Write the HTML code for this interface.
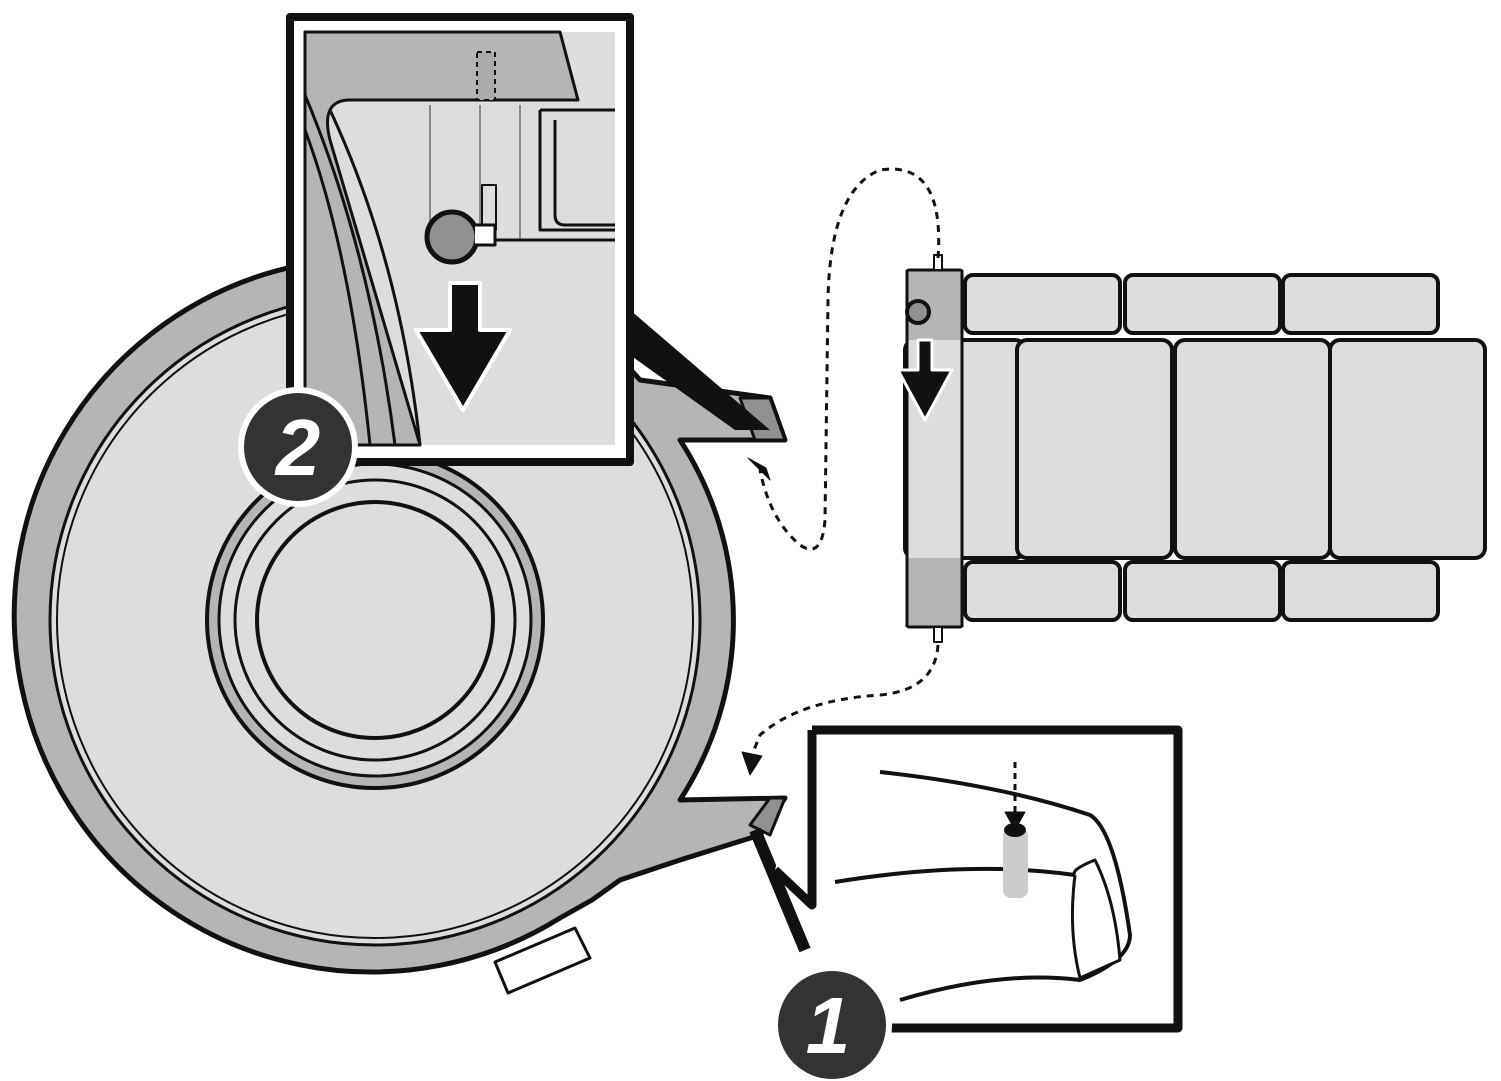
<!DOCTYPE html>
<html><head><meta charset="utf-8"><style>
html,body{margin:0;padding:0;background:#fff;}
svg{display:block;}
text{font-family:"Liberation Sans",sans-serif;font-weight:bold;font-style:italic;}
</style></head><body>
<svg width="1501" height="1081" viewBox="0 0 1501 1081" xmlns="http://www.w3.org/2000/svg">
<g stroke="#111" stroke-linejoin="round">
<!-- big disc body with tabs -->
<path d="M680,440 L785,440 L770,398 L640,380 A357,357 0 1 0 560,918 L592,900 L620,880 L680,860 L760,835 L785,798 L680,800 A330,330 0 0 0 680,440 Z" fill="#b4b5b6" stroke-width="5"/>
<circle cx="375" cy="620" r="325" fill="#dcdddd" stroke-width="3"/>
<circle cx="375" cy="620" r="318" fill="none" stroke-width="2"/>
<circle cx="375" cy="620" r="168" fill="#b4b5b6" stroke-width="4"/>
<circle cx="375" cy="620" r="156" fill="#dcdddd" stroke-width="3"/>
<circle cx="375" cy="620" r="140" fill="#dcdddd" stroke-width="3"/>
<circle cx="375" cy="620" r="118" fill="#dcdddd" stroke-width="4"/>
<path d="M740,398 L770,398 L785,440 L755,440 Z" fill="#8f9091" stroke-width="3"/>
<path d="M750,825 L770,798 L785,798 L770,835 Z" fill="#8f9091" stroke-width="3"/>
<path d="M495,962 L575,928 L590,958 L508,993 Z" fill="#fff" stroke-width="3"/>
<!-- box 2 pointer -->
<path d="M630,310 L770,430 L735,430 L630,355 Z" fill="#111" stroke="none"/>
<!-- box 2 -->
<rect x="290" y="17" width="340" height="445" fill="#fff" stroke-width="8"/>
<rect x="305" y="32" width="310" height="413" fill="#dcdddd" stroke="none"/>
<path d="M305,32 L560,32 L578,100 L350,100 Q320,100 330,140 L420,445 L305,445 Z" fill="#b4b5b6" stroke-width="3"/>
<path d="M305,95 Q370,250 395,445 M305,130 Q350,250 370,445 M330,110 Q400,260 420,445" fill="none" stroke-width="3"/>
<path d="M540,110 L615,110 M540,110 L540,230 L615,230 M555,120 L555,215 Q555,225 565,225 L615,225" fill="none" stroke-width="3"/>
<path d="M430,105 L430,240 M480,105 L480,240 M520,105 L520,240" stroke="#888" stroke-width="2"/>
<rect x="482" y="185" width="14" height="45" fill="none" stroke-width="2"/>
<rect x="477" y="52" width="18" height="48" fill="#aaa" stroke-width="2" stroke-dasharray="5,4"/>
<path d="M470,240 L615,240" stroke-width="3"/>
<circle cx="452" cy="237" r="25" fill="#8f9091" stroke-width="5"/>
<path d="M475,225 L495,225 L495,245 L475,245" fill="#fff" stroke-width="3"/>
<path d="M450,283 L480,283 L480,330 L510,330 L463,410 L416,330 L450,330 Z" fill="#111" stroke="#fff" stroke-width="4"/>
<circle cx="298" cy="447" r="57" fill="#333" stroke="#fff" stroke-width="6"/>
<text x="298" y="475" font-size="80" fill="#fff" text-anchor="middle" stroke="none">2</text>
<!-- box 1 -->
<path d="M755,830 L805,950" stroke-width="12"/>
<path d="M812,730 L1178,730 L1178,1028 L832,1028 M812,730 L812,905 L775,870" fill="#fff" stroke-width="9"/>
<path d="M880,772 Q1000,785 1090,815 Q1115,830 1130,935 Q1130,960 1080,980 Q1000,970 900,1000" fill="#fff" stroke-width="4"/>
<path d="M835,882 Q970,860 1075,875" fill="none" stroke-width="4"/>
<path d="M1075,875 Q1070,870 1095,860 Q1115,900 1120,960 L1080,978 Q1068,930 1075,875" fill="#fff" stroke-width="3"/>
<rect x="1003" y="828" width="25" height="70" rx="8" fill="#ccc" stroke="none"/>
<ellipse cx="1015" cy="830" rx="11" ry="7" fill="#111" stroke="none"/>
<path d="M1015,762 L1015,815" stroke-width="3" stroke-dasharray="6,5"/>
<path d="M1005,812 L1015,830 L1025,812 Z" fill="#111"/>
<circle cx="832" cy="1025" r="57" fill="#333" stroke="#fff" stroke-width="6"/>
<text x="828" y="1053" font-size="80" fill="#fff" text-anchor="middle" stroke="none">1</text>
<!-- right part -->
<g fill="#dcdddd" stroke-width="4">
<rect x="965" y="275" width="155" height="58" rx="8"/>
<rect x="1125" y="275" width="155" height="58" rx="8"/>
<rect x="1283" y="275" width="155" height="58" rx="8"/>
<rect x="965" y="562" width="155" height="58" rx="8"/>
<rect x="1125" y="562" width="155" height="58" rx="8"/>
<rect x="1283" y="562" width="155" height="58" rx="8"/>
<rect x="905" y="340" width="120" height="218" rx="10"/>
<rect x="1017" y="340" width="155" height="218" rx="10"/>
<rect x="1175" y="340" width="155" height="218" rx="10"/>
<rect x="1330" y="340" width="155" height="218" rx="10"/>
<rect x="907" y="270" width="55" height="357" rx="2" fill="#b4b5b6" stroke-width="3"/>
</g>
<rect x="907" y="340" width="55" height="218" fill="#dcdddd" stroke="none"/>
<path d="M907,270 L907,627 M962,270 L962,627" stroke-width="3"/>
<rect x="934" y="255" width="8" height="15" fill="#fff" stroke-width="2"/>
<rect x="934" y="627" width="8" height="15" fill="#fff" stroke-width="2"/>
<circle cx="918" cy="312" r="11" fill="#8f9091" stroke-width="4"/>
<path d="M918,340 L932,340 L932,370 L952,370 L925,420 L898,370 L918,370 Z" fill="#111" stroke="#fff" stroke-width="3"/>
<!-- dotted arrows -->
<path d="M938,258 Q945,160 880,170 Q830,190 828,300 L825,520 Q822,560 800,545 Q770,520 760,470" fill="none" stroke-width="3" stroke-dasharray="7,6"/>
<path d="M748,458 L766,468 L770,480 Z" fill="#111"/>
<path d="M938,645 Q935,690 880,695 Q800,700 760,735 L750,760" fill="none" stroke-width="3" stroke-dasharray="7,6"/>
<path d="M742,752 L750,775 L762,756 Z" fill="#111"/>
</g>
</svg>
</body></html>
